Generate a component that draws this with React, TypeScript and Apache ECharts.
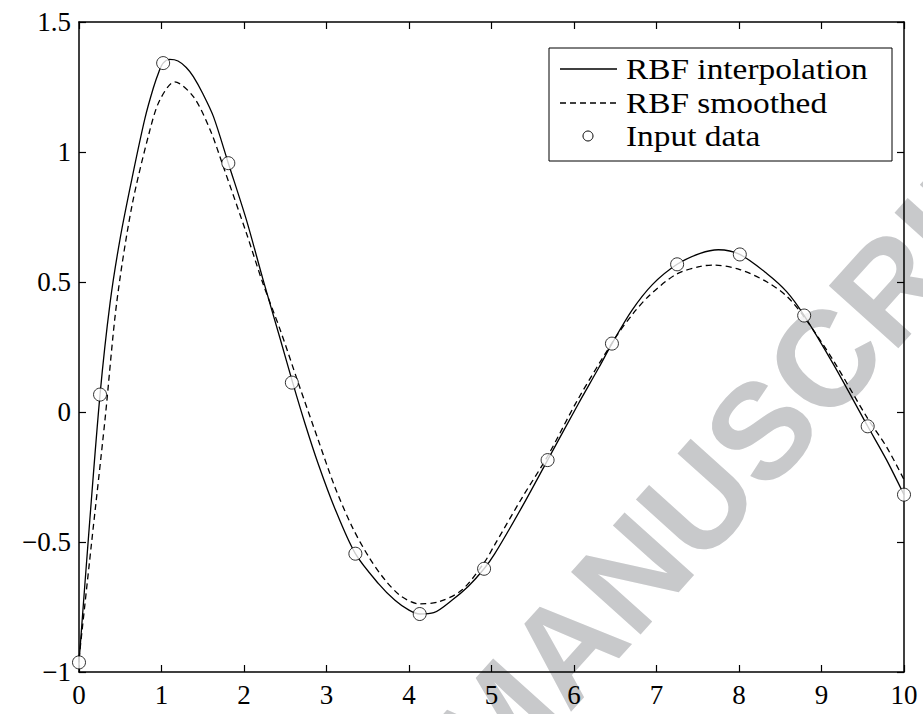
import React, { useEffect, useRef } from "react";
import * as echarts from "echarts";

// Input data (circles)
const inputX = [0, 0.255, 1.02, 1.81, 2.58, 3.35, 4.13, 4.91, 5.68, 6.46, 7.25, 8.01, 8.79, 9.56, 10];
const inputY = [-0.963, 0.067, 1.342, 0.957, 0.113, -0.545, -0.777, -0.603, -0.185, 0.263, 0.568, 0.606, 0.371, -0.055, -0.318];

// RBF interpolation (solid)
const interpX = [0, 0.125, 0.255, 0.376, 0.5, 0.65, 0.8, 0.9, 0.97, 1.02, 1.1, 1.2, 1.3, 1.386, 1.5, 1.63, 1.81, 2.03, 2.23, 2.44, 2.59, 2.74, 2.9, 3.1, 3.35, 3.63, 3.83, 4.0, 4.13, 4.3, 4.52, 4.72, 4.91, 5.04, 5.37, 5.68, 6.05, 6.3, 6.46, 6.7, 6.95, 7.25, 7.53, 7.75, 8.01, 8.34, 8.58, 8.79, 9.14, 9.56, 9.79, 10];
const interpY = [-0.963, -0.44, 0.067, 0.418, 0.67, 0.91, 1.13, 1.245, 1.31, 1.342, 1.356, 1.35, 1.325, 1.29, 1.225, 1.136, 0.957, 0.738, 0.51, 0.28, 0.113, -0.045, -0.2, -0.37, -0.545, -0.66, -0.724, -0.762, -0.777, -0.772, -0.724, -0.67, -0.603, -0.545, -0.365, -0.185, 0.03, 0.17, 0.263, 0.39, 0.49, 0.568, 0.61, 0.624, 0.606, 0.532, 0.462, 0.371, 0.186, -0.055, -0.185, -0.318];

// RBF smoothed (dashed)
const smoothX = [0, 0.15, 0.315, 0.456, 0.64, 0.86, 0.98, 1.16, 1.386, 1.59, 1.75, 2.03, 2.23, 2.44, 2.66, 2.9, 3.1, 3.31, 3.51, 3.71, 3.91, 4.13, 4.36, 4.64, 4.91, 5.04, 5.37, 5.68, 6.05, 6.5, 6.72, 6.92, 7.24, 7.53, 7.69, 8.01, 8.34, 8.58, 8.79, 9.14, 9.55, 9.79, 10];
const smoothY = [-0.95, -0.51, -0.03, 0.418, 0.79, 1.085, 1.2, 1.27, 1.213, 1.085, 0.943, 0.687, 0.494, 0.315, 0.11, -0.108, -0.287, -0.441, -0.556, -0.646, -0.71, -0.738, -0.73, -0.685, -0.58, -0.51, -0.33, -0.17, 0.05, 0.285, 0.38, 0.45, 0.53, 0.56, 0.565, 0.548, 0.5, 0.445, 0.365, 0.2, -0.02, -0.135, -0.26];

const legendLabels = ["RBF interpolation", "RBF smoothed", "Input data"];
const watermarkPre = "ACCEPTED ";
const watermarkPost = "MANUSCRIPT";

const SERIF = "Times New Roman";
const SANS = "Arial";
const fmt = (v: number) => String(v).replace("-", "\u2212");

const zip = (xs: number[], ys: number[]) => xs.map((x, i) => [x, ys[i]]);

export default function App() {
  const ref = useRef<HTMLDivElement>(null);
  useEffect(() => {
    const chart = echarts.init(ref.current!, null, { renderer: "svg" });
    const axisCommon = {
      type: "value" as const,
      axisLine: { show: true, onZero: false, lineStyle: { color: "#000", width: 1.5 } },
      axisTick: { show: true, inside: true, length: 7, lineStyle: { color: "#000", width: 1.2 } },
      splitLine: { show: false },
    };
    const legendRows = [69, 103, 136];
    const wmAngle = (48 * Math.PI) / 180;
    const option: any = {
      animation: false,
      backgroundColor: "#fff",
      textStyle: { fontFamily: SERIF },
      grid: { left: 79, right: 19, top: 22, bottom: 42, containLabel: false },
      xAxis: [
        {
          ...axisCommon,
          min: 0, max: 10, interval: 1, position: "bottom",
          axisLabel: { show: true, margin: 9, color: "#000", fontSize: 27, fontFamily: SERIF, formatter: fmt },
        },
        {
          ...axisCommon,
          min: 0, max: 10, interval: 1, position: "top",
          axisLabel: { show: false },
        },
      ],
      yAxis: [
        {
          ...axisCommon,
          min: -1, max: 1.5, interval: 0.5, position: "left",
          axisLabel: { show: true, margin: 8, color: "#000", fontSize: 27, fontFamily: SERIF, formatter: fmt },
        },
        {
          ...axisCommon,
          min: -1, max: 1.5, interval: 0.5, position: "right",
          axisLabel: { show: false },
        },
      ],
      series: [
        {
          name: legendLabels[0],
          type: "line",
          data: zip(interpX, interpY),
          showSymbol: false,
          smooth: 0.3,
          lineStyle: { color: "#000", width: 1.3 },
          z: 2,
        },
        {
          name: legendLabels[1],
          type: "line",
          data: zip(smoothX, smoothY),
          showSymbol: false,
          smooth: 0.3,
          lineStyle: { color: "#000", width: 1.3, type: [6, 4] },
          z: 2,
        },
        {
          name: legendLabels[2],
          type: "scatter",
          data: zip(inputX, inputY),
          symbol: "circle",
          symbolSize: 13,
          itemStyle: { color: "#fff", borderColor: "#000", borderWidth: 1 },
          z: 3,
        },
      ],
      graphic: [
        {
          type: "group",
          x: 458,
          y: 767,
          rotation: wmAngle,
          z: -10,
          silent: true,
          children: [
            {
              type: "text",
              z: -10,
              style: {
                text: watermarkPre, x: 0, y: 0,
                font: "bold 136px Arial",
                fontSize: 136, fontWeight: "bold", fontFamily: SANS,
                fill: "#c8c9cb", align: "right", verticalAlign: "middle", textAlign: "right", textVerticalAlign: "middle",
              },
            },
            {
              type: "text",
              z: -10,
              style: {
                text: watermarkPost, x: 0, y: 0,
                font: "bold 136px Arial",
                fontSize: 136, fontWeight: "bold", fontFamily: SANS,
                fill: "#c8c9cb", align: "left", verticalAlign: "middle", textAlign: "left", textVerticalAlign: "middle",
              },
            },
          ],
        },
        {
          type: "group",
          z: 100,
          children: [
            {
              type: "rect",
              shape: { x: 549, y: 48, width: 343, height: 113 },
              style: { fill: "#fff", stroke: "#000", lineWidth: 1 },
              z: 100,
            },
            {
              type: "line",
              shape: { x1: 560, y1: legendRows[0], x2: 617, y2: legendRows[0] },
              style: { stroke: "#000", lineWidth: 1.3 },
              z: 101,
            },
            {
              type: "line",
              shape: { x1: 560, y1: legendRows[1], x2: 617, y2: legendRows[1] },
              style: { stroke: "#000", lineWidth: 1.3, lineDash: [6, 4] },
              z: 101,
            },
            {
              type: "circle",
              shape: { cx: 588, cy: legendRows[2], r: 5 },
              style: { fill: "#fff", stroke: "#000", lineWidth: 1 },
              z: 101,
            },
            ...legendLabels.map((t, i) => ({
              type: "text",
              x: 626,
              y: legendRows[i],
              scaleX: 1.15,
              z: 101,
              style: {
                text: t, x: 0, y: 0, font: "29px Times New Roman", fontSize: 29, fontFamily: SERIF, fill: "#000",
                align: "left", verticalAlign: "middle", textAlign: "left", textVerticalAlign: "middle",
              },
            })),
          ],
        },
      ],
    };
    chart.setOption(option);
    return () => chart.dispose();
  }, []);
  return (
    <div
      ref={ref}
      style={{ position: "fixed", left: 0, top: 0, width: 923, height: 714, background: "#fff" }}
    />
  );
}
